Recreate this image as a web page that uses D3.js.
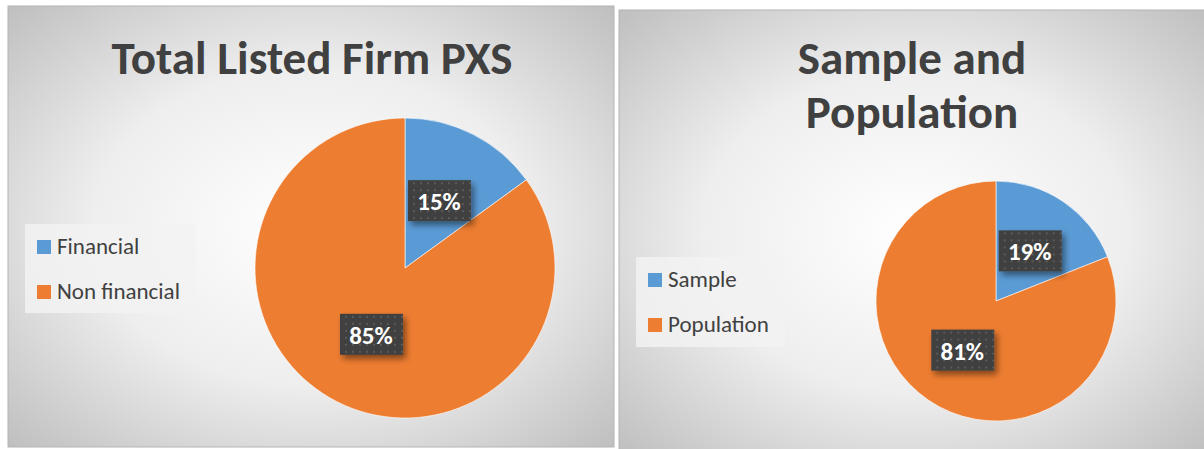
<!DOCTYPE html>
<html>
<head>
<meta charset="utf-8">
<script src="https://cdn.jsdelivr.net/npm/d3@7"></script>
<style>
  body { margin: 0; background: #ffffff; }
  svg { display: block; }
  text { font-family: Calibri, Carlito, Lato, "Open Sans", sans-serif; }
</style>
</head>
<body>
<svg id="chart" width="1204" height="449"></svg>
<script>
// data
var leftTitle = ["Total Listed Firm PXS"];
var leftCategories = ["Financial", "Non financial"];
var leftValues = [15, 85];

var rightTitle = ["Sample and", "Population"];
var rightCategories = ["Sample", "Population"];
var rightValues = [19, 81];

var colors = ["#5b9bd5", "#ed7d31"];

var svg = d3.select("#chart");
var defs = svg.append("defs");

// background gradient like the office preset
var grad = defs.append("radialGradient")
  .attr("id", "bg")
  .attr("cx", "50%").attr("cy", "50%").attr("r", "72%");
grad.append("stop").attr("offset", "0%").attr("stop-color", "#ffffff");
grad.append("stop").attr("offset", "50%").attr("stop-color", "#eeeeee");
grad.append("stop").attr("offset", "100%").attr("stop-color", "#bdbdbd");

// dotted dark label fill
var pat = defs.append("pattern")
  .attr("id", "dots")
  .attr("width", 7).attr("height", 7)
  .attr("patternUnits", "userSpaceOnUse");
pat.append("rect").attr("width", 7).attr("height", 7).attr("fill", "#404040");
pat.append("rect").attr("x", 2).attr("y", 2).attr("width", 2).attr("height", 2).attr("fill", "#5a5a5a");

var shadow = defs.append("filter").attr("id", "shadow")
  .attr("x", "-30%").attr("y", "-30%").attr("width", "170%").attr("height", "170%");
shadow.append("feDropShadow")
  .attr("dx", 3).attr("dy", 4).attr("stdDeviation", 3)
  .attr("flood-color", "#000").attr("flood-opacity", 0.45);

function draw(p) {
  var g = svg.append("g");

  // panel
  g.append("rect")
    .attr("x", p.x).attr("y", p.y)
    .attr("width", p.w).attr("height", p.h)
    .attr("fill", "url(#bg)")
    .attr("stroke", "#b4b4b4")
    .attr("stroke-width", 1);

  // title
  g.append("text")
    .attr("text-anchor", "middle")
    .attr("font-weight", "bold")
    .attr("font-size", p.titleSize)
    .attr("fill", "#404040")
    .selectAll("tspan")
    .data(p.title)
    .enter()
    .append("tspan")
    .attr("x", p.titleX)
    .attr("y", function (d, i) { return p.titleY + i * 54; })
    .text(function (d) { return d; });

  // pie
  var pie = d3.pie().sort(null).value(function (d) { return d; });
  var arc = d3.arc().innerRadius(0).outerRadius(p.r);
  var arcs = pie(p.values);

  var pg = g.append("g")
    .attr("transform", "translate(" + p.cx + "," + p.cy + ")");

  pg.selectAll("path")
    .data(arcs)
    .enter()
    .append("path")
    .attr("d", arc)
    .attr("fill", function (d, i) { return colors[i]; })
    .attr("stroke", "#ffffff")
    .attr("stroke-width", 0.6);

  // data labels
  var lab = pg.selectAll("g.lab")
    .data(arcs)
    .enter()
    .append("g")
    .attr("class", "lab")
    .attr("transform", function (d) {
      var c = arc.centroid(d);
      return "translate(" + c[0] + "," + c[1] + ")";
    });

  lab.append("rect")
    .attr("x", -31).attr("y", -21)
    .attr("width", 63).attr("height", 41)
    .attr("fill", "url(#dots)")
    .attr("filter", "url(#shadow)");

  lab.append("text")
    .attr("text-anchor", "middle")
    .attr("y", 9)
    .attr("font-weight", "bold")
    .attr("font-size", 25)
    .attr("fill", "#ffffff")
    .text(function (d) { return d.data + "%"; });

  // legend
  var lg = g.append("g");
  lg.append("rect")
    .attr("x", p.lx).attr("y", p.ly)
    .attr("width", p.lw).attr("height", p.lh)
    .attr("fill", "#f2f2f2")
    .attr("opacity", 0.85);

  var item = lg.selectAll("g.item")
    .data(p.categories)
    .enter()
    .append("g")
    .attr("class", "item")
    .attr("transform", function (d, i) {
      return "translate(" + (p.lx + 12) + "," + (p.ly + 16 + i * 45) + ")";
    });

  item.append("rect")
    .attr("width", 14).attr("height", 14)
    .attr("fill", function (d, i) { return colors[i]; });

  item.append("text")
    .attr("x", 20)
    .attr("y", 14)
    .attr("font-size", 23)
    .attr("fill", "#404040")
    .text(function (d) { return d; });
}

draw({
  x: 8, y: 6, w: 606, h: 441,
  title: leftTitle, titleX: 312, titleY: 74, titleSize: 47,
  categories: leftCategories, values: leftValues,
  cx: 405, cy: 268, r: 150,
  lx: 25, ly: 224, lw: 171, lh: 89
});

draw({
  x: 619, y: 10, w: 590, h: 444,
  title: rightTitle, titleX: 912, titleY: 74, titleSize: 47,
  categories: rightCategories, values: rightValues,
  cx: 996, cy: 301, r: 120,
  lx: 636, ly: 257, lw: 149, lh: 90
});
</script>
</body>
</html>
